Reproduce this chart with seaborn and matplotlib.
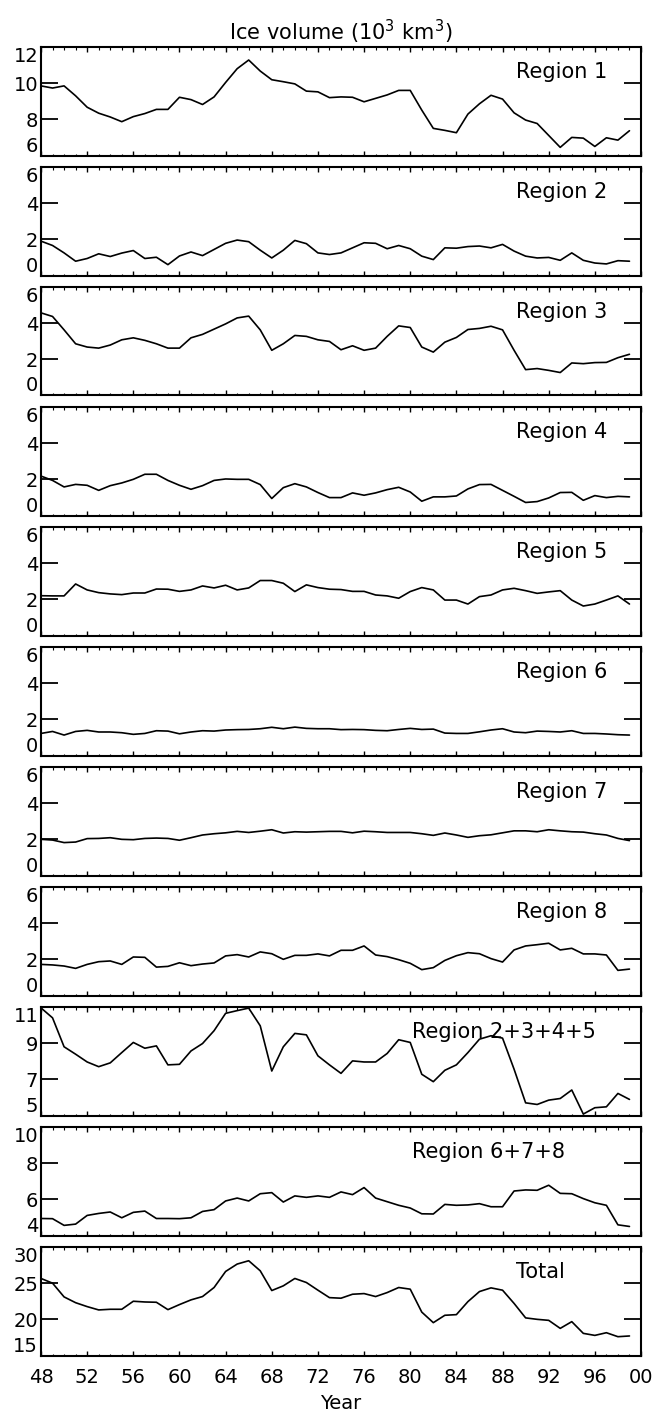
import numpy as np
import pandas as pd
import matplotlib
matplotlib.use("Agg")
import matplotlib.pyplot as plt
from matplotlib.ticker import MultipleLocator, FixedLocator, FuncFormatter
import seaborn as sns

years = list(range(1948, 2000))

region1 = [9.85, 9.73, 9.85, 9.3, 8.67, 8.34, 8.13, 7.87, 8.15, 8.32,
           8.55, 8.55, 9.22, 9.09, 8.82, 9.24, 10.04, 10.8, 11.28, 10.67,
           10.19, 10.08, 9.96, 9.56, 9.52, 9.2, 9.24, 9.22, 8.97, 9.16,
           9.35, 9.6, 9.6, 8.51, 7.5, 7.39, 7.26, 8.29, 8.86, 9.33,
           9.12, 8.36, 7.96, 7.77, 7.11, 6.45, 7.0, 6.96, 6.5, 6.98,
           6.85, 7.37]
region2 = [1.9, 1.66, 1.25, 0.79, 0.94, 1.2, 1.05, 1.24, 1.38, 0.94,
           1.01, 0.6, 1.08, 1.3, 1.1, 1.44, 1.78, 1.96, 1.87, 1.4,
           0.97, 1.4, 1.94, 1.76, 1.25, 1.16, 1.25, 1.53, 1.81, 1.78,
           1.48, 1.66, 1.48, 1.07, 0.88, 1.53, 1.51, 1.6, 1.63, 1.53,
           1.72, 1.35, 1.07, 0.97, 1.0, 0.84, 1.25, 0.84, 0.69, 0.64,
           0.82, 0.79]
region3 = [4.57, 4.37, 3.63, 2.86, 2.68, 2.62, 2.79, 3.08, 3.19, 3.05,
           2.86, 2.62, 2.62, 3.19, 3.38, 3.67, 3.96, 4.29, 4.39, 3.63,
           2.5, 2.86, 3.32, 3.27, 3.08, 2.99, 2.53, 2.75, 2.5, 2.62,
           3.27, 3.85, 3.76, 2.68, 2.4, 2.95, 3.21, 3.65, 3.71, 3.83,
           3.63, 2.5, 1.43, 1.49, 1.39, 1.27, 1.8, 1.76, 1.82, 1.83,
           2.09, 2.28]
region4 = [2.18, 1.94, 1.58, 1.72, 1.67, 1.39, 1.65, 1.8, 2.0, 2.28,
           2.28, 1.94, 1.67, 1.45, 1.65, 1.94, 2.02, 2.0, 2.0, 1.71,
           0.94, 1.54, 1.76, 1.58, 1.27, 0.99, 0.99, 1.25, 1.12, 1.25,
           1.43, 1.56, 1.3, 0.79, 1.03, 1.03, 1.08, 1.47, 1.71, 1.72,
           1.39, 1.06, 0.72, 0.77, 0.97, 1.27, 1.28, 0.84, 1.1, 0.99,
           1.06, 1.03]
region5 = [2.2, 2.19, 2.19, 2.85, 2.52, 2.37, 2.3, 2.26, 2.35, 2.35,
           2.57, 2.56, 2.44, 2.52, 2.74, 2.63, 2.78, 2.52, 2.63, 3.04,
           3.04, 2.89, 2.43, 2.8, 2.65, 2.56, 2.54, 2.44, 2.44, 2.24,
           2.19, 2.06, 2.43, 2.65, 2.52, 1.96, 1.96, 1.74, 2.15, 2.24,
           2.52, 2.61, 2.48, 2.33, 2.41, 2.48, 1.96, 1.63, 1.74, 1.96,
           2.19, 1.74]
region6 = [1.22, 1.33, 1.13, 1.33, 1.39, 1.3, 1.3, 1.26, 1.17, 1.22,
           1.37, 1.35, 1.2, 1.3, 1.37, 1.35, 1.41, 1.43, 1.44, 1.48,
           1.56, 1.48, 1.57, 1.5, 1.48, 1.48, 1.43, 1.44, 1.43, 1.39,
           1.37, 1.44, 1.5, 1.44, 1.46, 1.24, 1.22, 1.22, 1.31, 1.41,
           1.48, 1.3, 1.26, 1.35, 1.33, 1.3, 1.37, 1.22, 1.22, 1.19,
           1.15, 1.13]
region7 = [2.0, 1.96, 1.82, 1.85, 2.04, 2.05, 2.09, 2.0, 1.98, 2.05,
           2.07, 2.05, 1.95, 2.09, 2.24, 2.31, 2.36, 2.44, 2.38, 2.45,
           2.53, 2.35, 2.42, 2.4, 2.42, 2.44, 2.44, 2.36, 2.45, 2.42,
           2.38, 2.38, 2.38, 2.31, 2.22, 2.35, 2.24, 2.11, 2.2, 2.25,
           2.36, 2.47, 2.47, 2.42, 2.53, 2.47, 2.42, 2.4, 2.31, 2.24,
           2.05, 1.93]
region8 = [1.72, 1.69, 1.63, 1.5, 1.72, 1.87, 1.91, 1.72, 2.13, 2.11,
           1.57, 1.61, 1.81, 1.65, 1.74, 1.8, 2.19, 2.26, 2.13, 2.41,
           2.31, 2.0, 2.22, 2.22, 2.3, 2.19, 2.5, 2.5, 2.74, 2.24,
           2.15, 1.98, 1.78, 1.43, 1.54, 1.94, 2.2, 2.37, 2.31, 2.04,
           1.85, 2.52, 2.74, 2.81, 2.89, 2.52, 2.61, 2.3, 2.3, 2.24,
           1.39, 1.46]
region2345 = [10.95, 10.4, 8.8, 8.39, 7.96, 7.7, 7.91, 8.48, 9.04, 8.72,
              8.85, 7.8, 7.83, 8.57, 8.98, 9.69, 10.65, 10.8, 10.94, 9.96,
              7.46, 8.8, 9.54, 9.46, 8.3, 7.8, 7.33, 8.02, 7.96, 7.96,
              8.43, 9.19, 9.04, 7.28, 6.87, 7.5, 7.8, 8.48, 9.22, 9.41,
              9.28, 7.56, 5.7, 5.61, 5.85, 5.94, 6.41, 5.08, 5.43, 5.48,
              6.22, 5.89]
region678 = [4.94, 4.93, 4.56, 4.63, 5.11, 5.22, 5.3, 4.98, 5.28, 5.35,
             4.94, 4.94, 4.93, 4.98, 5.33, 5.43, 5.91, 6.07, 5.91, 6.31,
             6.37, 5.85, 6.19, 6.11, 6.19, 6.11, 6.41, 6.26, 6.65, 6.07,
             5.87, 5.67, 5.52, 5.2, 5.19, 5.72, 5.67, 5.69, 5.76, 5.59,
             5.59, 6.46, 6.52, 6.5, 6.78, 6.33, 6.31, 6.04, 5.81, 5.67,
             4.59, 4.5]
total = [25.65, 25.0, 23.1, 22.3, 21.76, 21.3, 21.39, 21.39, 22.5, 22.4,
         22.36, 21.34, 22.04, 22.69, 23.15, 24.4, 26.62, 27.64, 28.1, 26.71,
         23.98, 24.63, 25.65, 25.09, 24.03, 23.0, 22.92, 23.47, 23.56, 23.15,
         23.7, 24.4, 24.17, 21.0, 19.54, 20.56, 20.65, 22.45, 23.84, 24.35,
         24.03, 22.2, 20.2, 20.0, 19.86, 18.75, 19.68, 18.06, 17.78, 18.15,
         17.6, 17.7]

panel_names = ["Region 1", "Region 2", "Region 3", "Region 4", "Region 5",
               "Region 6", "Region 7", "Region 8", "Region 2+3+4+5",
               "Region 6+7+8", "Total"]
panel_series = [region1, region2, region3, region4, region5, region6,
                region7, region8, region2345, region678, total]
y_ranges = [(6, 12), (0, 6), (0, 6), (0, 6), (0, 6), (0, 6), (0, 6), (0, 6),
            (5, 11), (4, 10), (15, 30)]
y_ticks = [[6, 8, 10, 12]] + [[0, 2, 4, 6]] * 7 + [[5, 7, 9, 11], [4, 6, 8, 10], [15, 20, 25, 30]]
label_x = [0.792] * 8 + [0.618, 0.618, 0.792]

sns.set_style("ticks")
plt.rcParams["font.family"] = ["DejaVu Sans"]
plt.rcParams["axes.linewidth"] = 1.5
for key in ["text.color", "axes.labelcolor", "xtick.color", "ytick.color",
            "axes.edgecolor", "xtick.labelcolor", "ytick.labelcolor"]:
    plt.rcParams[key] = "black"

W, H = 652, 1412
fig = plt.figure(figsize=(W / 100, H / 100), dpi=100)
left_px, right_px = 41, 641
ph = 108.5

axes = []
for i, (name, vals) in enumerate(zip(panel_names, panel_series)):
    top = 47 + 120 * i
    ax = fig.add_axes([left_px / W, 1 - (top + ph) / H, (right_px - left_px) / W, ph / H])
    df = pd.DataFrame({"year": years, "value": vals})
    sns.lineplot(data=df, x="year", y="value", ax=ax, color="black", linewidth=1.2)
    ax.set_xlim(1948, 2000)
    ax.set_ylim(*y_ranges[i])
    ax.set_xlabel("")
    ax.set_ylabel("")
    ax.yaxis.set_major_locator(FixedLocator(y_ticks[i]))
    ax.xaxis.set_major_locator(MultipleLocator(4))
    ax.xaxis.set_minor_locator(MultipleLocator(1))
    ax.tick_params(axis="y", which="major", direction="in", length=12.5, width=1.3,
                   left=True, right=True, labelsize=14, pad=2, colors="black")
    ax.tick_params(axis="x", which="major", direction="in", length=3.5, width=1.0,
                   top=True, bottom=True, labelsize=14, pad=9, colors="black")
    ax.tick_params(axis="x", which="minor", direction="in", length=1.8, width=0.8,
                   top=True, bottom=True, colors="black")
    for s in ax.spines.values():
        s.set_visible(True)
        s.set_linewidth(1.5)
        s.set_color("black")
    if i < len(panel_names) - 1:
        ax.tick_params(axis="x", labelbottom=False)
    else:
        ax.xaxis.set_major_formatter(FuncFormatter(lambda v, p: "%02d" % (int(round(v)) % 100)))
        ax.set_xlabel("Year", fontsize=14, labelpad=5, color="black")
    ticks = ax.yaxis.get_major_ticks()
    ticks[0].label1.set_verticalalignment("bottom")
    ticks[-1].label1.set_verticalalignment("top")
    ax.text(label_x[i], 0.77, name, transform=ax.transAxes, fontsize=15,
            ha="left", va="center", color="black")
    axes.append(ax)

fig.text(341 / W, 1 - 32 / H, "Ice volume (10$^3$ km$^3$)", ha="center", va="center",
         fontsize=15, color="black")

fig.savefig("out.png", dpi=100)
